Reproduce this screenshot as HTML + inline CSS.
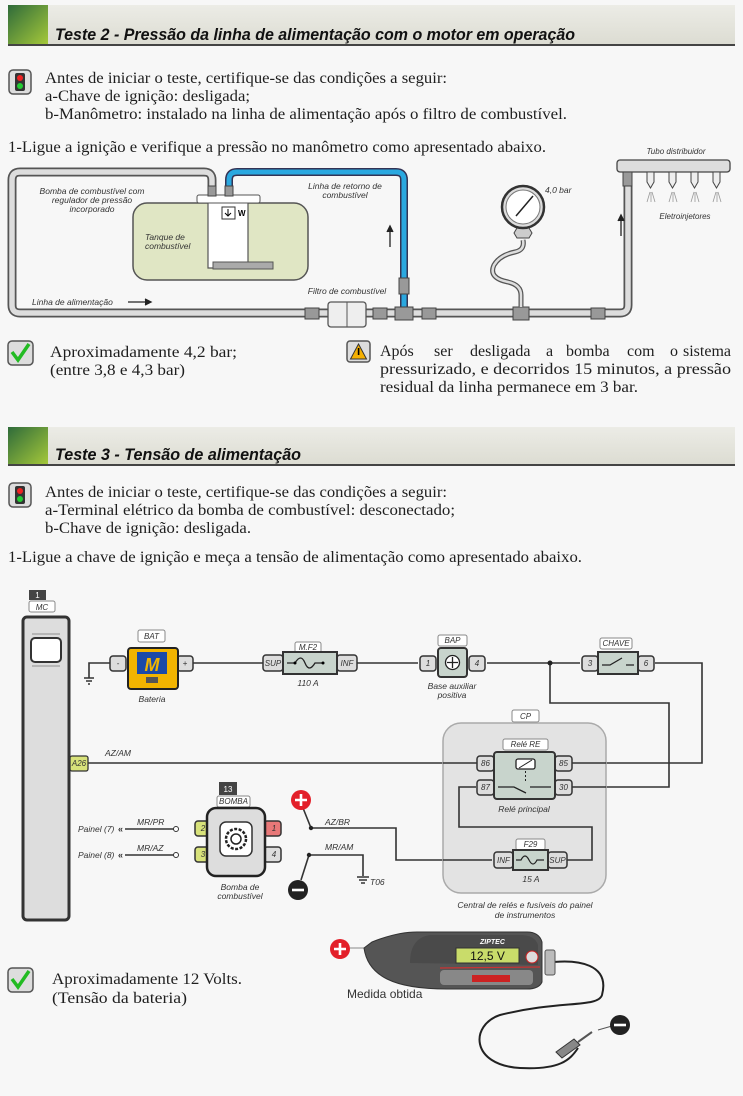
<!DOCTYPE html>
<html><head><meta charset="utf-8"><style>
html,body{margin:0;padding:0;background:#f7f7f7}
svg{display:block}
.s{font-family:"Liberation Serif",serif;font-size:16px;fill:#1e1e1e}
.h{font-family:"Liberation Sans",sans-serif;font-size:17px;font-weight:bold;font-style:italic;fill:#111}
.l{font-family:"Liberation Sans",sans-serif;font-size:8.5px;font-style:italic;fill:#333}
.t{font-family:"Liberation Sans",sans-serif;font-size:8px;font-style:italic;fill:#333}
.w{fill:none;stroke:#333;stroke-width:1.6}
</style></head><body>
<svg width="743" height="1096" viewBox="0 0 743 1096" xmlns="http://www.w3.org/2000/svg">
<defs>
<linearGradient id="g" x1="0" y1="0" x2="1" y2="1"><stop offset="0" stop-color="#2f6b3a"/><stop offset="1" stop-color="#a6c93a"/></linearGradient>
<linearGradient id="hb" x1="0" y1="0" x2="0" y2="1"><stop offset="0" stop-color="#ececE6"/><stop offset="1" stop-color="#dcdcd2"/></linearGradient>
</defs>
<rect width="743" height="1096" fill="#f7f7f7"/>
<!-- header 1 -->
<rect x="8" y="5" width="727" height="40" fill="url(#hb)"/>
<rect x="8" y="5" width="40" height="40" fill="url(#g)"/>
<rect x="8" y="44" width="727" height="2" fill="#444"/>
<text x="55" y="40" class="h" textLength="520" lengthAdjust="spacingAndGlyphs">Teste 2 - Pressão da linha de alimentação com o motor em operação</text>
<!-- traffic icon -->
<g id="tl"><rect x="9" y="70" width="22" height="24" rx="4" fill="#ddd" stroke="#555" stroke-width="1.5"/><rect x="15" y="73" width="10" height="18" rx="2" fill="#333"/><circle cx="20" cy="78" r="3" fill="#e22"/><circle cx="20" cy="86" r="3" fill="#2c3"/></g>
<text x="45" y="83" class="s" textLength="402" lengthAdjust="spacingAndGlyphs">Antes de iniciar o teste, certifique-se das condições a seguir:</text>
<text x="45" y="101" class="s" textLength="205" lengthAdjust="spacingAndGlyphs">a-Chave de ignição: desligada;</text>
<text x="45" y="119" class="s" textLength="522" lengthAdjust="spacingAndGlyphs">b-Manômetro: instalado na linha de alimentação após o filtro de combustível.</text>
<text x="8" y="152" class="s" textLength="538" lengthAdjust="spacingAndGlyphs">1-Ligue a ignição e verifique a pressão no manômetro como apresentado abaixo.</text>
<!-- fuel diagram -->
<g fill="none" stroke-linejoin="round" stroke-linecap="round">
<path d="M212 200 V180 Q212 172 204 172 H20 Q12 172 12 180 V305 Q12 313 20 313 H620 Q628 313 628 305 V172" stroke="#555" stroke-width="9"/>
<path d="M212 200 V180 Q212 172 204 172 H20 Q12 172 12 180 V305 Q12 313 20 313 H620 Q628 313 628 305 V172" stroke="#ddd" stroke-width="5.5"/>
<path d="M229 200 V180 Q229 172 237 172 H396 Q404 172 404 180 V313" stroke="#335" stroke-width="8"/>
<path d="M229 200 V180 Q229 172 237 172 H396 Q404 172 404 180 V313" stroke="#2aa8e0" stroke-width="5"/>
</g>
<rect x="133" y="203" width="175" height="77" rx="14" fill="#e0e6c4" stroke="#555" stroke-width="1.5"/>
<path d="M208 203 V268 H248 V203" fill="#fff" stroke="#555" stroke-width="1.2"/>
<rect x="213" y="262" width="60" height="7" fill="#aaa" stroke="#555"/>
<rect x="197" y="195" width="63" height="8" rx="2" fill="#fff" stroke="#555"/>
<rect x="222" y="207" width="13" height="12" fill="#fff" stroke="#333"/><path d="M228 209 v7 m-3 -3 l3 3 l3 -3" stroke="#000" fill="none"/>
<text x="238" y="216" style="font:bold 8px 'Liberation Sans'">W</text>
<rect x="208" y="186" width="8" height="10" fill="#999" stroke="#444"/><rect x="225" y="186" width="8" height="10" fill="#999" stroke="#444"/>
<text class="l" text-anchor="middle"><tspan x="92" y="194">Bomba de combustível com</tspan><tspan x="92" y="203">regulador de pressão</tspan><tspan x="92" y="212">incorporado</tspan></text>
<text class="l"><tspan x="145" y="240">Tanque de</tspan><tspan x="145" y="249">combustível</tspan></text>
<text class="l" text-anchor="middle"><tspan x="345" y="189">Linha de retorno de</tspan><tspan x="345" y="198">combustível</tspan></text>
<path d="M390 247 V228 M387 232 L390 226 L393 232" stroke="#222" stroke-width="1.3" fill="#222"/>
<text class="l" x="32" y="305">Linha de alimentação</text>
<path d="M128 302 H150 M145 299 L151 302 L145 305" stroke="#222" stroke-width="1.3" fill="#222"/>
<text class="l" x="347" y="294" text-anchor="middle">Filtro de combustível</text>
<rect x="305" y="308" width="14" height="11" fill="#999" stroke="#444"/>
<rect x="328" y="302" width="38" height="25" rx="3" fill="#eee" stroke="#555" stroke-width="1.3"/><line x1="347" y1="302" x2="347" y2="327" stroke="#555"/>
<rect x="373" y="308" width="14" height="11" fill="#999" stroke="#444"/>
<rect x="395" y="307" width="18" height="13" fill="#999" stroke="#444"/><rect x="399" y="278" width="10" height="16" fill="#999" stroke="#444"/>
<rect x="422" y="308" width="14" height="11" fill="#999" stroke="#444"/>
<rect x="513" y="307" width="16" height="13" fill="#999" stroke="#444"/>
<rect x="591" y="308" width="14" height="11" fill="#999" stroke="#444"/>
<path d="M521 307 V295 Q521 285 508 282 Q488 278 494 265 Q500 255 515 252 Q525 250 523 240" fill="none" stroke="#555" stroke-width="5"/>
<path d="M521 307 V295 Q521 285 508 282 Q488 278 494 265 Q500 255 515 252 Q525 250 523 240" fill="none" stroke="#ddd" stroke-width="2.5"/>
<path d="M517 228 h12 l3 5 l-3 5 h-12 l-3 -5z" fill="#ccc" stroke="#444"/>
<circle cx="523" cy="207" r="21" fill="#ddd" stroke="#333" stroke-width="2.5"/><circle cx="523" cy="207" r="17" fill="#fff" stroke="#777"/>
<line x1="516" y1="216" x2="533" y2="196" stroke="#222" stroke-width="1.5"/>
<text class="l" x="545" y="193">4,0 bar</text>
<text class="t" x="676" y="154" text-anchor="middle">Tubo distribuidor</text>
<rect x="617" y="160" width="113" height="12" rx="3" fill="#ddd" stroke="#444" stroke-width="1.3"/>
<rect x="623" y="172" width="9" height="14" fill="#999" stroke="#444"/>
<g fill="#eee" stroke="#444"><path d="M647 172 h7 v10 l-3.5 6 l-3.5 -6z"/><path d="M669 172 h7 v10 l-3.5 6 l-3.5 -6z"/><path d="M691 172 h7 v10 l-3.5 6 l-3.5 -6z"/><path d="M713 172 h7 v10 l-3.5 6 l-3.5 -6z"/></g>
<g stroke="#999" stroke-width="0.8"><path d="M650 192 l-3 10 M651 192 v10 M652 192 l3 10 M672 192 l-3 10 M673 192 v10 M674 192 l3 10 M694 192 l-3 10 M695 192 v10 M696 192 l3 10 M716 192 l-3 10 M717 192 v10 M718 192 l3 10"/></g>
<text class="t" x="685" y="219" text-anchor="middle">Eletroinjetores</text>
<path d="M621 236 V217 M618 221 L621 215 L624 221" stroke="#222" stroke-width="1.3" fill="#222"/>
<!-- results -->
<g id="ck"><rect x="8" y="341" width="25" height="24" rx="4" fill="#ddd" stroke="#555" stroke-width="1.5"/><path d="M12 352 l6 8 l11 -16" fill="none" stroke="#2b2" stroke-width="3.5"/></g>
<text x="50" y="357" class="s" textLength="187" lengthAdjust="spacingAndGlyphs">Aproximadamente 4,2 bar;</text>
<text x="50" y="375" class="s" textLength="135" lengthAdjust="spacingAndGlyphs">(entre 3,8 e 4,3 bar)</text>
<rect x="347" y="341" width="23" height="21" rx="3" fill="#ddd" stroke="#555" stroke-width="1.5"/><path d="M358.5 344 l8 15 h-16z" fill="#f5b000" stroke="#333"/><rect x="357.8" y="348" width="1.6" height="7" fill="#000"/>
<text y="356" class="s"><tspan x="380">Após</tspan><tspan x="434">ser</tspan><tspan x="470">desligada</tspan><tspan x="546">a</tspan><tspan x="566">bomba</tspan><tspan x="627">com</tspan><tspan x="670">o</tspan><tspan x="731" text-anchor="end">sistema</tspan></text>
<text x="380" y="374" class="s" textLength="351" lengthAdjust="spacingAndGlyphs">pressurizado, e decorridos  15 minutos, a pressão</text>
<text x="380" y="392" class="s" textLength="258" lengthAdjust="spacingAndGlyphs">residual da linha permanece em 3 bar.</text>
<!-- header 2 -->
<rect x="8" y="427" width="727" height="38" fill="url(#hb)"/>
<rect x="8" y="427" width="40" height="38" fill="url(#g)"/>
<rect x="8" y="464" width="727" height="2" fill="#444"/>
<text x="55" y="460" class="h" textLength="246" lengthAdjust="spacingAndGlyphs">Teste 3 - Tensão de alimentação</text>
<g transform="translate(0,413)"><rect x="9" y="70" width="22" height="24" rx="4" fill="#ddd" stroke="#555" stroke-width="1.5"/><rect x="15" y="73" width="10" height="18" rx="2" fill="#333"/><circle cx="20" cy="78" r="3" fill="#e22"/><circle cx="20" cy="86" r="3" fill="#2c3"/></g>
<text x="45" y="497" class="s" textLength="402" lengthAdjust="spacingAndGlyphs">Antes de iniciar o teste, certifique-se das condições a seguir:</text>
<text x="45" y="515" class="s" textLength="410" lengthAdjust="spacingAndGlyphs">a-Terminal elétrico da bomba de combustível: desconectado;</text>
<text x="45" y="533" class="s" textLength="206" lengthAdjust="spacingAndGlyphs">b-Chave de ignição: desligada.</text>
<text x="8" y="562" class="s" textLength="574" lengthAdjust="spacingAndGlyphs">1-Ligue a chave de ignição e meça a tensão de alimentação como apresentado abaixo.</text>
<!-- electrical -->
<rect x="29" y="590" width="17" height="10" fill="#444"/><text x="37.5" y="598" text-anchor="middle" style="font:8px 'Liberation Sans';fill:#fff">1</text>
<rect x="29" y="601" width="26" height="11" rx="2" fill="#fff" stroke="#888"/><text x="42" y="610" text-anchor="middle" class="t">MC</text>
<rect x="23" y="617" width="46" height="303" rx="4" fill="#ddd" stroke="#333" stroke-width="3"/>
<rect x="31" y="638" width="30" height="24" rx="4" fill="#fff" stroke="#333" stroke-width="2"/>
<g stroke="#444" stroke-width="0.6"><path d="M32 634 h28 M32 666 h28"/></g>
<!-- wires -->
<g class="w">
<path d="M89 678 V663 H110"/>
<path d="M192 663 H263"/><path d="M357 663 H418"/><path d="M487 663 H580"/>
<path d="M655 663 H702 V763 H556"/>
<path d="M550 663 V703 H669 V787 H556"/>
<path d="M88 763 H476"/>
<path d="M311 828 H396 V860 H492"/>
<path d="M309 855 H363 V876"/>
<path d="M311 828 L303 808"/><path d="M309 855 L301 880"/>
<path d="M125 829 H175"/><path d="M125 855 H175"/>
</g>
<circle cx="550" cy="663" r="2.5" fill="#222"/><circle cx="311" cy="828" r="2.2" fill="#222"/><circle cx="309" cy="855" r="2.2" fill="#222"/>
<circle cx="176" cy="829" r="2.5" fill="#fff" stroke="#333"/><circle cx="176" cy="855" r="2.5" fill="#fff" stroke="#333"/>
<path d="M84 678 h10 M86 681 h6 M88 684 h2" stroke="#333" stroke-width="1.5"/>
<path d="M357 877 h12 M359 880 h8 M361 883 h4" stroke="#333" stroke-width="1.5"/>
<!-- battery -->
<rect x="138" y="630" width="27" height="12" rx="2" fill="#fff" stroke="#888"/><text x="151.5" y="639" text-anchor="middle" class="t">BAT</text>
<rect x="110" y="656" width="16" height="15" rx="3" fill="#ddd" stroke="#333" stroke-width="1.5"/><text x="118" y="666" text-anchor="middle" class="t">-</text>
<rect x="177" y="656" width="16" height="15" rx="3" fill="#ddd" stroke="#333" stroke-width="1.5"/><text x="185" y="666" text-anchor="middle" class="t">+</text>
<rect x="128" y="648" width="50" height="41" rx="3" fill="#f2b400" stroke="#222" stroke-width="2"/>
<rect x="137" y="652" width="30" height="22" fill="#1b4aa8"/><text x="152" y="671" text-anchor="middle" style="font:bold italic 18px 'Liberation Sans';fill:#f2b400">M</text>
<rect x="146" y="677" width="12" height="6" fill="#555"/>
<text x="152" y="702" text-anchor="middle" class="l">Bateria</text>
<!-- fuse MF2 -->
<rect x="295" y="642" width="26" height="11" rx="2" fill="#fff" stroke="#888"/><text x="308" y="650" text-anchor="middle" class="t">M.F2</text>
<rect x="263" y="655" width="20" height="16" rx="3" fill="#ddd" stroke="#333" stroke-width="1.5"/><text x="273" y="666" text-anchor="middle" class="t">SUP</text>
<rect x="337" y="655" width="20" height="16" rx="3" fill="#ddd" stroke="#333" stroke-width="1.5"/><text x="347" y="666" text-anchor="middle" class="t">INF</text>
<rect x="283" y="652" width="54" height="22" fill="#c8d4cc" stroke="#333" stroke-width="2"/>
<path d="M287 663 h8 q6 -10 10 0 q4 10 10 0 h8" fill="none" stroke="#222" stroke-width="1.3"/><circle cx="295" cy="663" r="1.5"/><circle cx="323" cy="663" r="1.5"/>
<text x="308" y="686" text-anchor="middle" class="l">110 A</text>
<!-- BAP -->
<rect x="438" y="635" width="29" height="11" rx="2" fill="#fff" stroke="#888"/><text x="452.5" y="643" text-anchor="middle" class="t">BAP</text>
<rect x="420" y="656" width="16" height="15" rx="3" fill="#ddd" stroke="#333" stroke-width="1.5"/><text x="428" y="666" text-anchor="middle" class="t">1</text>
<rect x="469" y="656" width="16" height="15" rx="3" fill="#ddd" stroke="#333" stroke-width="1.5"/><text x="477" y="666" text-anchor="middle" class="t">4</text>
<rect x="438" y="648" width="29" height="29" rx="3" fill="#c8d4cc" stroke="#333" stroke-width="2"/>
<circle cx="452.5" cy="662.5" r="7" fill="#fff" stroke="#222" stroke-width="1.3"/><path d="M452.5 657 v11 M447 662.5 h11" stroke="#222" stroke-width="1.3"/>
<text class="l" text-anchor="middle"><tspan x="452" y="689">Base auxiliar</tspan><tspan x="452" y="698">positiva</tspan></text>
<!-- CHAVE -->
<rect x="600" y="638" width="32" height="11" rx="2" fill="#fff" stroke="#888"/><text x="616" y="646" text-anchor="middle" class="t">CHAVE</text>
<rect x="582" y="656" width="16" height="15" rx="3" fill="#ddd" stroke="#333" stroke-width="1.5"/><text x="590" y="666" text-anchor="middle" class="t">3</text>
<rect x="638" y="656" width="16" height="15" rx="3" fill="#ddd" stroke="#333" stroke-width="1.5"/><text x="646" y="666" text-anchor="middle" class="t">6</text>
<rect x="598" y="652" width="40" height="22" fill="#c8d4cc" stroke="#333" stroke-width="2"/>
<path d="M602 665 h8 l12 -7 M626 665 h8" fill="none" stroke="#222" stroke-width="1.3"/>
<!-- CP -->
<rect x="512" y="710" width="27" height="12" rx="2" fill="#fff" stroke="#888"/><text x="525.5" y="719" text-anchor="middle" class="t">CP</text>
<rect x="443" y="723" width="163" height="170" rx="18" fill="#e3e3e3" stroke="#aaa" stroke-width="1.5"/>
<g class="w"><path d="M443 763 H556"/><path d="M476 787 H459 V827 H592 V860 H567"/><path d="M443 860 H492"/><path d="M556 787 H606"/><path d="M556 763 H606"/></g>
<rect x="503" y="739" width="45" height="11" rx="2" fill="#fff" stroke="#888"/><text x="525.5" y="747" text-anchor="middle" class="t">Relé RE</text>
<rect x="477" y="756" width="17" height="15" rx="3" fill="#ddd" stroke="#333" stroke-width="1.5"/><text x="485.5" y="766" text-anchor="middle" class="t">86</text>
<rect x="477" y="780" width="17" height="15" rx="3" fill="#ddd" stroke="#333" stroke-width="1.5"/><text x="485.5" y="790" text-anchor="middle" class="t">87</text>
<rect x="555" y="756" width="17" height="15" rx="3" fill="#ddd" stroke="#333" stroke-width="1.5"/><text x="563.5" y="766" text-anchor="middle" class="t">85</text>
<rect x="555" y="780" width="17" height="15" rx="3" fill="#ddd" stroke="#333" stroke-width="1.5"/><text x="563.5" y="790" text-anchor="middle" class="t">30</text>
<rect x="494" y="752" width="61" height="47" rx="3" fill="#c8d4cc" stroke="#333" stroke-width="2"/>
<rect x="516" y="759" width="19" height="10" rx="2" fill="#fff" stroke="#222" stroke-width="1.3"/><path d="M519 768 l13 -8" stroke="#222"/>
<path d="M525.5 771 v10" stroke="#222" stroke-dasharray="2 2"/>
<path d="M498 787 h16 l12 6 M530 787 h21" fill="none" stroke="#222" stroke-width="1.3"/>
<text x="524" y="812" text-anchor="middle" class="l">Relé principal</text>
<!-- F29 -->
<rect x="516" y="839" width="29" height="11" rx="2" fill="#fff" stroke="#888"/><text x="530.5" y="847" text-anchor="middle" class="t">F29</text>
<rect x="494" y="852" width="19" height="16" rx="3" fill="#ddd" stroke="#333" stroke-width="1.5"/><text x="503.5" y="863" text-anchor="middle" class="t">INF</text>
<rect x="548" y="852" width="19" height="16" rx="3" fill="#ddd" stroke="#333" stroke-width="1.5"/><text x="557.5" y="863" text-anchor="middle" class="t">SUP</text>
<rect x="513" y="850" width="35" height="20" fill="#c8d4cc" stroke="#333" stroke-width="2"/>
<path d="M516 860 h5 q4 -8 8 0 q4 8 8 0 h7" fill="none" stroke="#222" stroke-width="1.2"/>
<text x="531" y="882" text-anchor="middle" class="l">15 A</text>
<text class="l" text-anchor="middle"><tspan x="525" y="908">Central de relés e fusíveis do painel</tspan><tspan x="525" y="918">de instrumentos</tspan></text>
<!-- A26 -->
<rect x="70" y="756" width="18" height="15" rx="2" fill="#d8e27a" stroke="#333" stroke-width="1.3"/><text x="79" y="766" text-anchor="middle" class="t">A26</text>
<text x="105" y="756" class="l">AZ/AM</text>
<!-- pump -->
<rect x="219" y="782" width="18" height="13" fill="#444"/><text x="228" y="792" text-anchor="middle" style="font:8px 'Liberation Sans';fill:#fff">13</text>
<rect x="217" y="796" width="33" height="11" rx="2" fill="#fff" stroke="#888"/><text x="233.5" y="804" text-anchor="middle" class="t">BOMBA</text>
<rect x="195" y="821" width="16" height="15" rx="3" fill="#d8e27a" stroke="#333" stroke-width="1.5"/><text x="203" y="831" text-anchor="middle" class="t">2</text>
<rect x="195" y="847" width="16" height="15" rx="3" fill="#d8e27a" stroke="#333" stroke-width="1.5"/><text x="203" y="857" text-anchor="middle" class="t">3</text>
<rect x="264" y="821" width="17" height="15" rx="3" fill="#e87878" stroke="#333" stroke-width="1.5"/><text x="274" y="831" text-anchor="middle" class="t">1</text>
<rect x="264" y="847" width="17" height="15" rx="3" fill="#ddd" stroke="#333" stroke-width="1.5"/><text x="274" y="857" text-anchor="middle" class="t">4</text>
<rect x="207" y="808" width="58" height="68" rx="9" fill="#ddd" stroke="#222" stroke-width="2.5"/>
<rect x="220" y="822" width="32" height="34" rx="6" fill="#fff" stroke="#333" stroke-width="1.5"/>
<circle cx="236" cy="839" r="10" fill="none" stroke="#222" stroke-width="2.5" stroke-dasharray="3 1.5"/><circle cx="236" cy="839" r="5" fill="none" stroke="#222" stroke-width="1.5"/>
<text class="l" text-anchor="middle"><tspan x="240" y="890">Bomba de</tspan><tspan x="240" y="899">combustível</tspan></text>
<text class="l" x="78" y="832">Painel (7)</text><text class="l" x="78" y="858">Painel (8)</text>
<text x="118" y="832" style="font:bold 9px 'Liberation Sans';fill:#333">«</text><text x="118" y="858" style="font:bold 9px 'Liberation Sans';fill:#333">«</text>
<text class="l" x="137" y="825">MR/PR</text><text class="l" x="137" y="851">MR/AZ</text>
<text class="l" x="325" y="825">AZ/BR</text><text class="l" x="325" y="850">MR/AM</text>
<text class="l" x="370" y="885">T06</text>
<circle cx="301" cy="800" r="10" fill="#e3202a"/><path d="M301 794 v12 M295 800 h12" stroke="#fff" stroke-width="2.6"/>
<circle cx="298" cy="890" r="10" fill="#222"/><path d="M292 890 h12" stroke="#fff" stroke-width="2.6"/>
<!-- bottom result -->
<g transform="translate(0,627)"><rect x="8" y="341" width="25" height="24" rx="4" fill="#ddd" stroke="#555" stroke-width="1.5"/><path d="M12 352 l6 8 l11 -16" fill="none" stroke="#2b2" stroke-width="3.5"/></g>
<text x="52" y="984" class="s" textLength="190" lengthAdjust="spacingAndGlyphs">Aproximadamente 12 Volts.</text>
<text x="52" y="1003" class="s" textLength="135" lengthAdjust="spacingAndGlyphs">(Tensão da bateria)</text>
<!-- multimeter -->
<path d="M545 963 C580 958 610 965 602 995 C598 1008 560 1000 500 1015 C470 1025 470 1065 520 1068 C560 1070 570 1060 578 1048" fill="none" stroke="#222" stroke-width="2"/>
<path d="M556 1052 l18 -13 l6 6 l-18 13z" fill="#888" stroke="#333"/><path d="M578 1042 l14 -10" stroke="#555" stroke-width="2"/>
<line x1="598" y1="1030" x2="612" y2="1026" stroke="#555"/>
<circle cx="620" cy="1025" r="10" fill="#222"/><path d="M614 1025 h12" stroke="#fff" stroke-width="2.6"/>
<line x1="350" y1="948" x2="366" y2="948" stroke="#888"/>
<circle cx="340" cy="949" r="10" fill="#e3202a"/><path d="M340 943 v12 M334 949 h12" stroke="#fff" stroke-width="2.6"/>
<path d="M364 948 l8 -6 q25 -10 45 -10 h110 q12 0 15 10 v40 q-3 7 -15 7 h-80 q-40 0 -60 -10 q-20 -10 -23 -31z" fill="#555" stroke="#333"/>
<path d="M410 963 q0 -25 20 -28 h90 q15 0 18 10 v20z" fill="#4a4a4a"/>
<rect x="440" y="970" width="93" height="15" rx="4" fill="#888"/>
<rect x="456" y="948" width="63" height="15" fill="#c9dc6a" stroke="#333"/>
<text x="487.5" y="960" text-anchor="middle" style="font:12px 'Liberation Sans';fill:#111">12,5 V</text>
<rect x="472" y="975" width="38" height="7" fill="#c22"/>
<text x="480" y="944" style="font:bold italic 7px 'Liberation Sans';fill:#fff">ZIPTEC</text>
<line x1="440" y1="968" x2="540" y2="967" stroke="#c33" stroke-width="1.2"/>
<circle cx="532" cy="957" r="6" fill="#ddd" stroke="#c22"/>
<rect x="545" y="950" width="10" height="25" rx="2" fill="#bbb" stroke="#555"/>
<text x="347" y="998" style="font:12px 'Liberation Sans';fill:#333">Medida obtida</text>
</svg>
</body></html>
